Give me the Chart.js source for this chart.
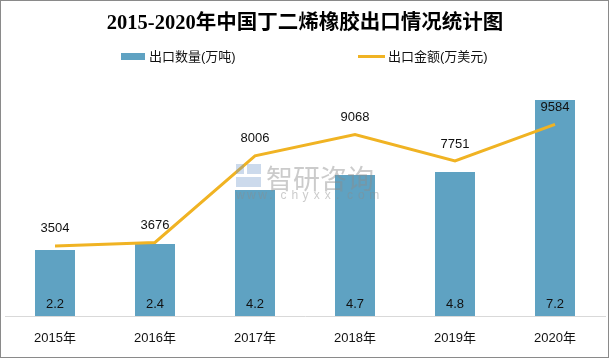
<!DOCTYPE html>
<html>
<head>
<meta charset="utf-8">
<script src="https://cdn.jsdelivr.net/npm/chart.js@4.4.0/dist/chart.umd.min.js"></script>
<style>
  html, body { margin: 0; padding: 0; background: #fff; }
  #wrap { position: relative; width: 610px; height: 359px; }
  #frame { position: absolute; left: 0; top: 0; width: 609px; height: 358px; box-sizing: border-box; border: 1px solid #8a8a8a; pointer-events: none; }
</style>
</head>
<body>
<div id="wrap">
  <canvas id="c" width="610" height="359"></canvas>
  <div id="frame"></div>
</div>
<script>
const categories = ['2015年', '2016年', '2017年', '2018年', '2019年', '2020年'];
const exportVolume = [2.2, 2.4, 4.2, 4.7, 4.8, 7.2];          // 出口数量(万吨)
const exportValue = [3504, 3676, 8006, 9068, 7751, 9584];     // 出口金额(万美元)
const titleText = '2015-2020年中国丁二烯橡胶出口情况统计图';
const seriesNames = ['出口数量(万吨)', '出口金额(万美元)'];

const BAR_COLOR = '#5fa2c2';
const LINE_COLOR = '#f0b323';
const SANS = '"Liberation Sans", "Noto Sans CJK SC", sans-serif';

const labelPlugin = {
  id: 'valueLabels',
  afterDatasetsDraw(chart) {
    const ctx = chart.ctx;
    ctx.save();
    ctx.font = '13px ' + SANS;
    ctx.fillStyle = '#111';
    ctx.textAlign = 'center';
    ctx.textBaseline = 'middle';
    chart.getDatasetMeta(0).data.forEach((el, i) => {
      ctx.fillText(String(exportVolume[i]), el.x, el.base - 12);
    });
    chart.getDatasetMeta(1).data.forEach((el, i) => {
      ctx.fillText(String(exportValue[i]), el.x, el.y - 17);
    });
    ctx.restore();
  },
  afterDraw(chart) {
    const ctx = chart.ctx;
    ctx.save();
    // legend
    ctx.font = '13px ' + SANS;
    ctx.textBaseline = 'middle';
    ctx.textAlign = 'left';
    ctx.fillStyle = BAR_COLOR;
    ctx.fillRect(121, 53, 24, 7);
    ctx.fillStyle = '#111';
    ctx.fillText(seriesNames[0], 149, 57);
    ctx.strokeStyle = LINE_COLOR;
    ctx.lineWidth = 3;
    ctx.beginPath();
    ctx.moveTo(358, 56.5);
    ctx.lineTo(385, 56.5);
    ctx.stroke();
    ctx.fillText(seriesNames[1], 388, 57);
    // watermark
    ctx.fillStyle = 'rgba(140,140,140,0.45)';
    ctx.textBaseline = 'alphabetic';
    ctx.font = '27px "Noto Sans CJK SC", sans-serif';
    ctx.fillText('智研咨询', 266, 189);
    ctx.font = '12px ' + SANS;
    const s = 'www.chyxx.com';
    let x = 236;
    for (const ch of s) { ctx.fillText(ch, x, 199); x += 11.1; }
    ctx.fillStyle = 'rgba(110,150,200,0.35)';
    ctx.fillRect(236, 164, 8, 10);
    ctx.fillRect(247, 164, 14, 10);
    ctx.fillRect(236, 177, 25, 10);
    ctx.restore();
  }
};

new Chart(document.getElementById('c'), {
  type: 'bar',
  data: {
    labels: categories,
    datasets: [
      {
        type: 'bar',
        label: seriesNames[0],
        data: exportVolume,
        backgroundColor: BAR_COLOR,
        yAxisID: 'y',
        categoryPercentage: 0.8,
        barPercentage: 0.5,
        order: 2
      },
      {
        type: 'line',
        label: seriesNames[1],
        data: exportValue,
        borderColor: LINE_COLOR,
        backgroundColor: LINE_COLOR,
        borderWidth: 3,
        pointRadius: 0,
        tension: 0,
        yAxisID: 'y1',
        order: 1
      }
    ]
  },
  options: {
    responsive: false,
    animation: false,
    layout: { padding: { left: 5, right: 5, top: 0, bottom: 0 } },
    plugins: {
      title: {
        display: true,
        text: titleText,
        color: '#000',
        font: { family: '"Liberation Serif", "Noto Sans CJK SC", serif', size: 20.5, weight: 'bold', lineHeight: 1.2 },
        padding: { top: 11, bottom: 40.4 }
      },
      legend: { display: false },
      tooltip: { enabled: false }
    },
    scales: {
      x: {
        grid: { display: false, drawTicks: false },
        border: { display: true, color: '#d9d9d9', width: 1 },
        ticks: { color: '#111', font: { family: SANS, size: 13 }, padding: 15 },
        afterFit(scale) { scale.height = 43; }
      },
      y: { display: false, min: 0, max: 8 },
      y1: { display: false, min: 0, max: 12000, position: 'right' }
    }
  },
  plugins: [labelPlugin]
});
</script>
</body>
</html>
